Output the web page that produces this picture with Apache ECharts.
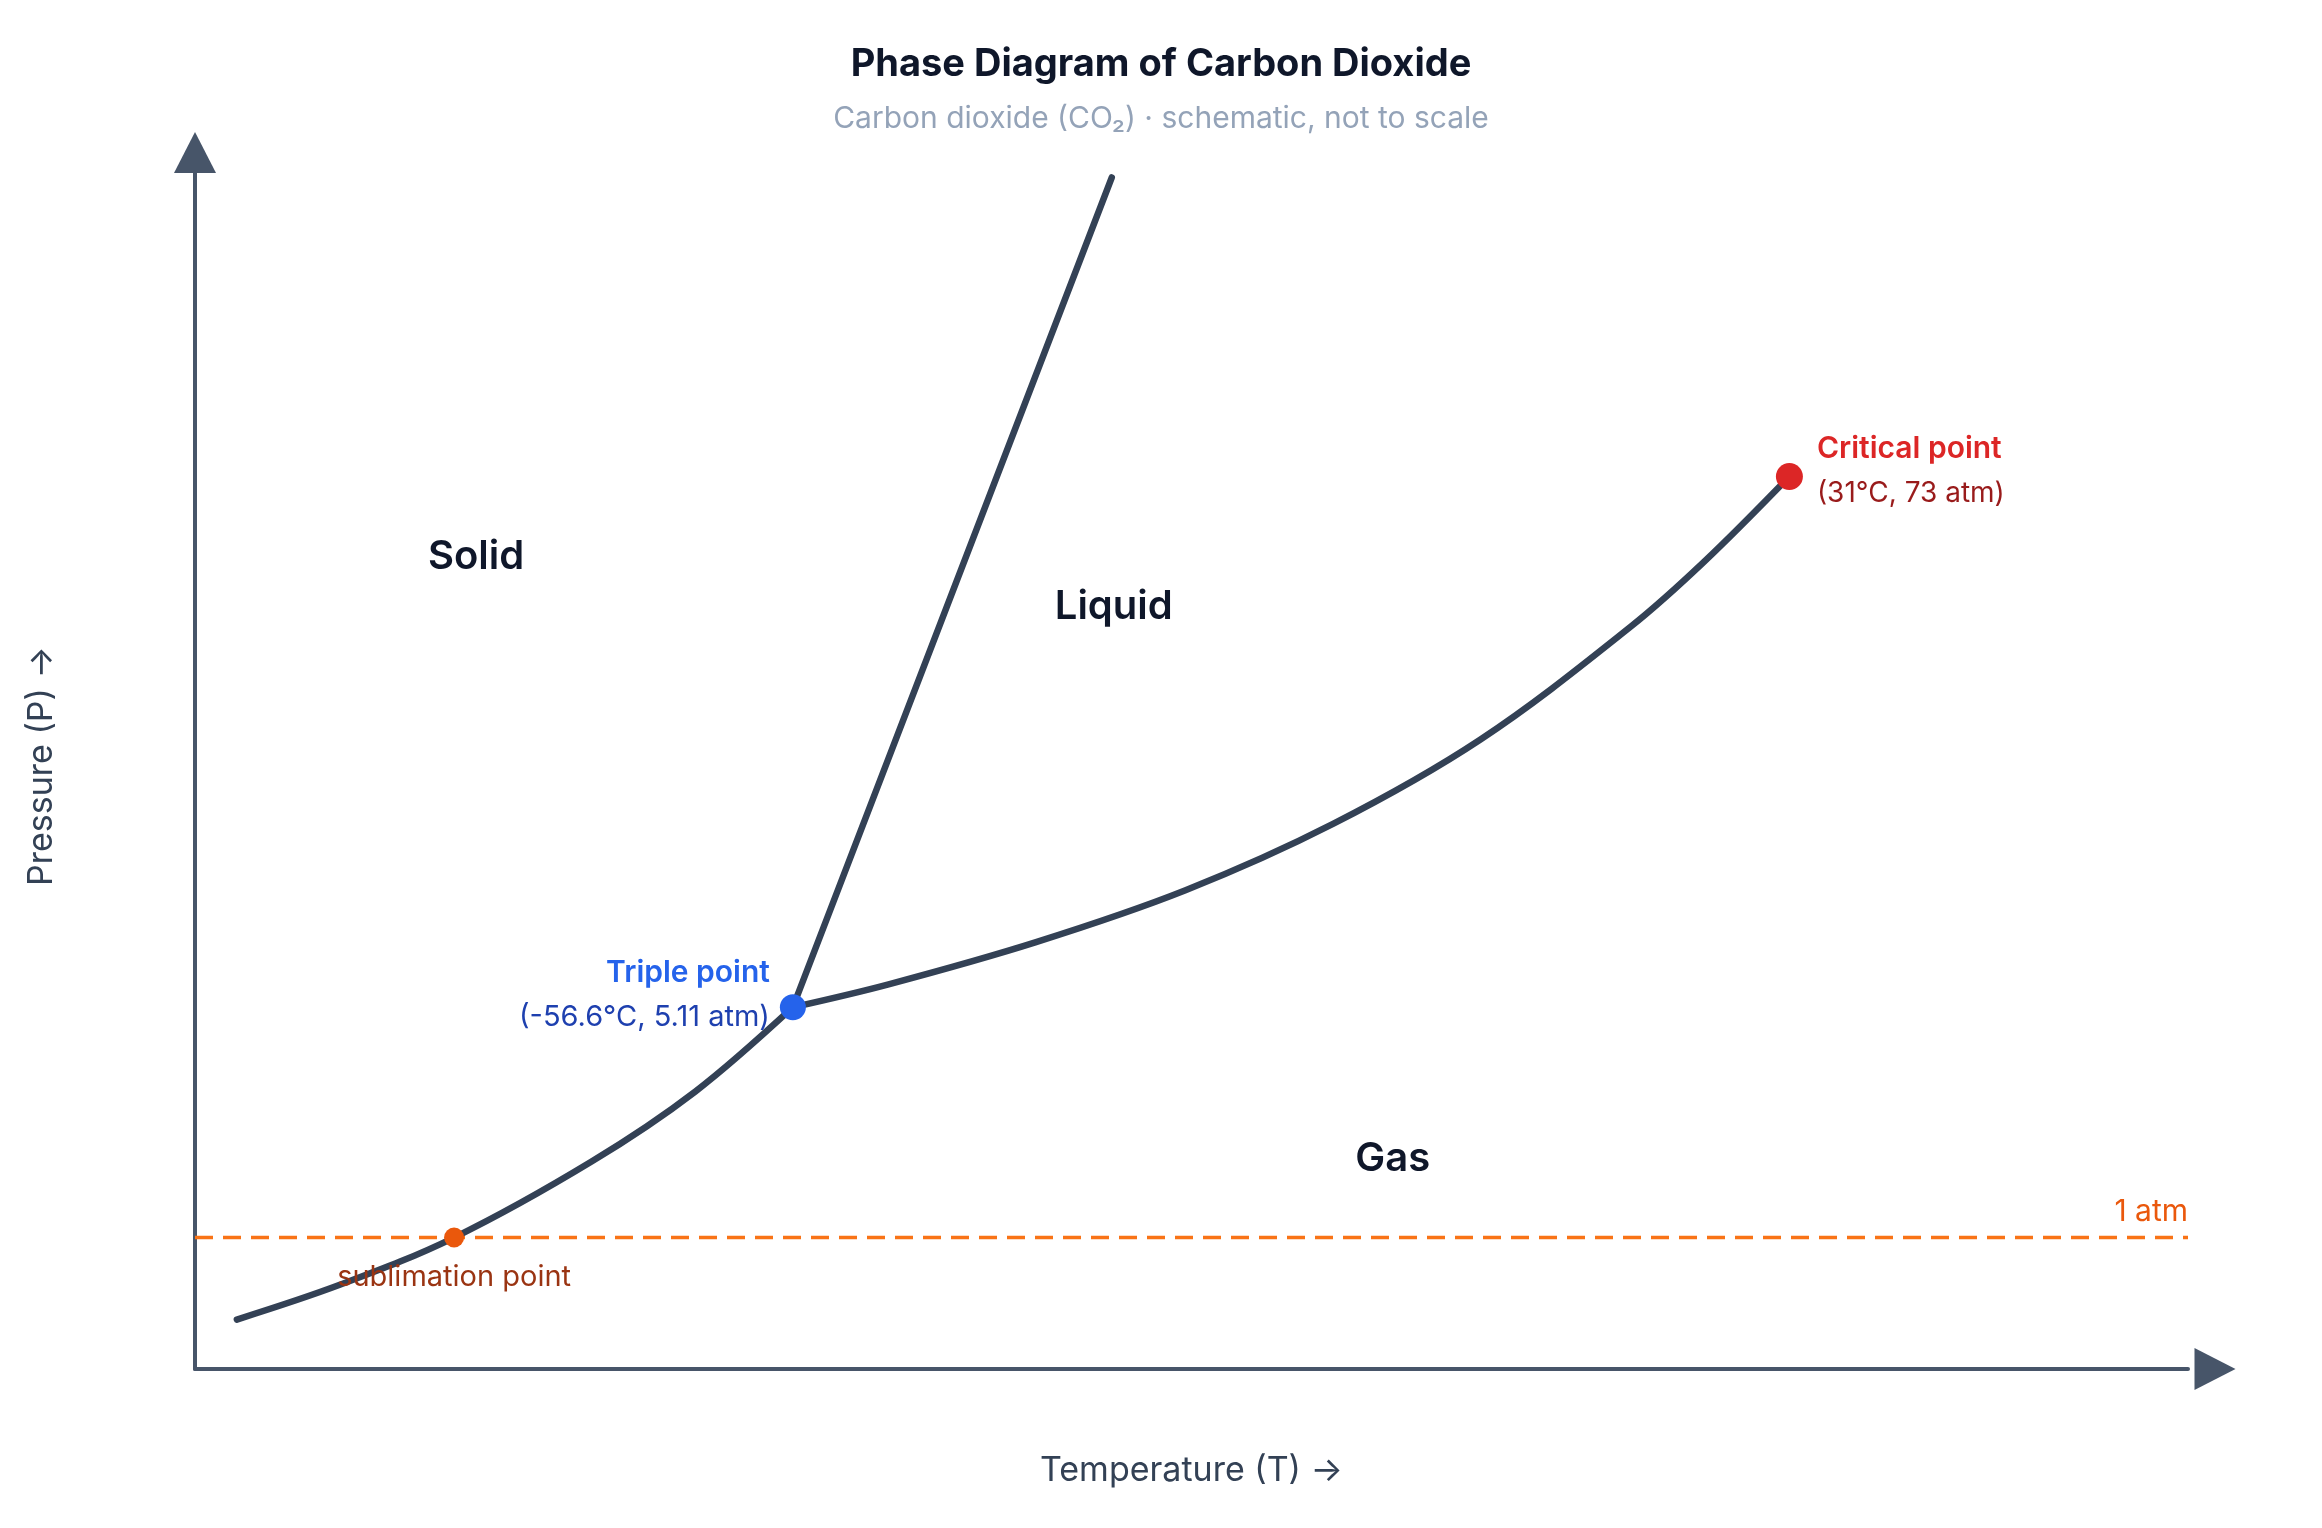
<!DOCTYPE html>
<html><head><meta charset="utf-8">
<script src="https://cdn.jsdelivr.net/npm/echarts@6/dist/echarts.min.js"></script>
<style>html,body{margin:0;padding:0;background:#fff}#c{width:2322px;height:1528px}</style>
</head><body><div id="c"></div>
<script>
// schematic coordinates (0..100 on both axes, not to scale)
const sublimationCurve = [[2.1,4.1],[7.3,7.0],[13.0,10.9],[19.9,17.2],[25.1,23.0],[30,30]];
const vaporizationCurve = [[30,30],[34.8,31.9],[42.2,35.4],[49.7,39.7],[57.1,45.2],[64.5,52.2],[72.0,61.5],[75.7,66.9],[80,74]];
const meltingCurve = [[30,30],[46,98.8]];
const oneAtmLevel = 10.9;
const oneAtmRange = [0,100];
const oneAtmText = '1 atm';
const regionNames = ['Solid','Liquid','Gas'];
const regionPos = [[14.1,67.3],[46.1,63.2],[60.1,17.4]];
const triplePoint = [30,30];
const tripleLabel = ['Triple point','(-56.6°C, 5.11 atm)'];
const criticalPoint = [80,74];
const criticalLabel = ['Critical point','(31°C, 73 atm)'];
const sublimationPoint = [13,10.9];
const sublimationLabel = 'sublimation point';
const titleText = 'Phase Diagram of Carbon Dioxide';
const subText = 'Carbon dioxide (CO₂) · schematic, not to scale';
const xName = 'Temperature (T) →';
const yName = 'Pressure (P) →';

const FONT = 'Inter, "Noto Sans", sans-serif';
const chart = echarts.init(document.getElementById('c'), null, {renderer:'canvas'});
const axisCommon = {
  type:'value', min:0, max:100,
  axisTick:{show:false}, axisLabel:{show:false}, splitLine:{show:false},
  nameLocation:'middle',
  nameTextStyle:{fontFamily:FONT, fontSize:34, color:'#334155'}
};
const curveStyle = {color:'#334155', width:6.5, cap:'round', join:'round'};
chart.setOption({
  animation:false,
  backgroundColor:'#ffffff',
  title:{
    text:titleText, subtext:subText, left:'center', top:41, itemGap:20,
    textStyle:{fontFamily:FONT, fontSize:38, fontWeight:700, color:'#0f172a'},
    subtextStyle:{fontFamily:FONT, fontSize:30, color:'#94a3b8'}
  },
  grid:{left:195, right:134, top:163, bottom:159},
  xAxis:Object.assign({}, axisCommon, {
    name:xName, nameGap:85,
    axisLine:{show:true, lineStyle:{color:'#475569', width:4}, symbol:['none','triangle'], symbolSize:[42,41], symbolOffset:[0,27]}
  }),
  yAxis:Object.assign({}, axisCommon, {
    name:yName, nameGap:136, nameRotate:90,
    axisLine:{show:true, lineStyle:{color:'#475569', width:4}, symbol:['none','triangle'], symbolSize:[42,41], symbolOffset:[0,10.5]}
  }),
  series:[
    {
      type:'line', symbol:'none', silent:true, clip:false, z:2,
      data:[[oneAtmRange[0],oneAtmLevel],[oneAtmRange[1],oneAtmLevel]],
      lineStyle:{color:'#f97316', width:3.5, type:[18,10]}
    },
    {type:'line', symbol:'none', smooth:0.35, clip:false, z:3, data:sublimationCurve, lineStyle:curveStyle},
    {type:'line', symbol:'none', smooth:0.35, clip:false, z:3, data:vaporizationCurve, lineStyle:curveStyle},
    {type:'line', symbol:'none', clip:false, z:3, data:meltingCurve, lineStyle:curveStyle},
    {
      type:'scatter', symbolSize:0, silent:true, z:4,
      itemStyle:{opacity:1},
      data:regionPos.map((p,i)=>({value:p, name:regionNames[i]})),
      label:{show:true, position:'inside', formatter:'{b}', fontFamily:FONT, fontSize:40, fontWeight:600, color:'#0f172a', opacity:1}
    },
    {
      type:'scatter', symbolSize:0, silent:true, z:4,
      itemStyle:{opacity:1},
      data:[{value:[oneAtmRange[1],oneAtmLevel], name:oneAtmText}],
      label:{show:true, position:'insideBottomRight', distance:0, offset:[0,-11], formatter:'{b}',
        fontFamily:FONT, fontSize:30, color:'#ea580c', opacity:1}
    },
    {
      type:'scatter', z:5, silent:true,
      itemStyle:{opacity:1},
      data:[
        {value:triplePoint, symbolSize:26, itemStyle:{color:'#2563eb', opacity:1},
          label:{show:true, position:'left', distance:10, offset:[0,-12], align:'right', opacity:1,
            formatter:'{h|'+tripleLabel[0]+'}\n{v|'+tripleLabel[1]+'}',
            rich:{h:{fontFamily:FONT, fontSize:30, fontWeight:600, color:'#2563eb', lineHeight:45, align:'right'},
                  v:{fontFamily:FONT, fontSize:29, color:'#1e40af', lineHeight:45, align:'right'}}}},
        {value:criticalPoint, symbolSize:27, itemStyle:{color:'#dc2626', opacity:1},
          label:{show:true, position:'right', distance:14, offset:[0,-5], align:'left', opacity:1,
            formatter:'{h|'+criticalLabel[0]+'}\n{v|'+criticalLabel[1]+'}',
            rich:{h:{fontFamily:FONT, fontSize:30, fontWeight:600, color:'#dc2626', lineHeight:45, align:'left'},
                  v:{fontFamily:FONT, fontSize:28, color:'#991b1b', lineHeight:45, align:'left'}}}},
        {value:sublimationPoint, symbolSize:20, itemStyle:{color:'#ea580c', opacity:1},
          label:{show:true, position:'bottom', distance:15, formatter:sublimationLabel, opacity:1,
            fontFamily:FONT, fontSize:29, color:'#9a3412'}}
      ]
    }
  ]
});
</script></body></html>
